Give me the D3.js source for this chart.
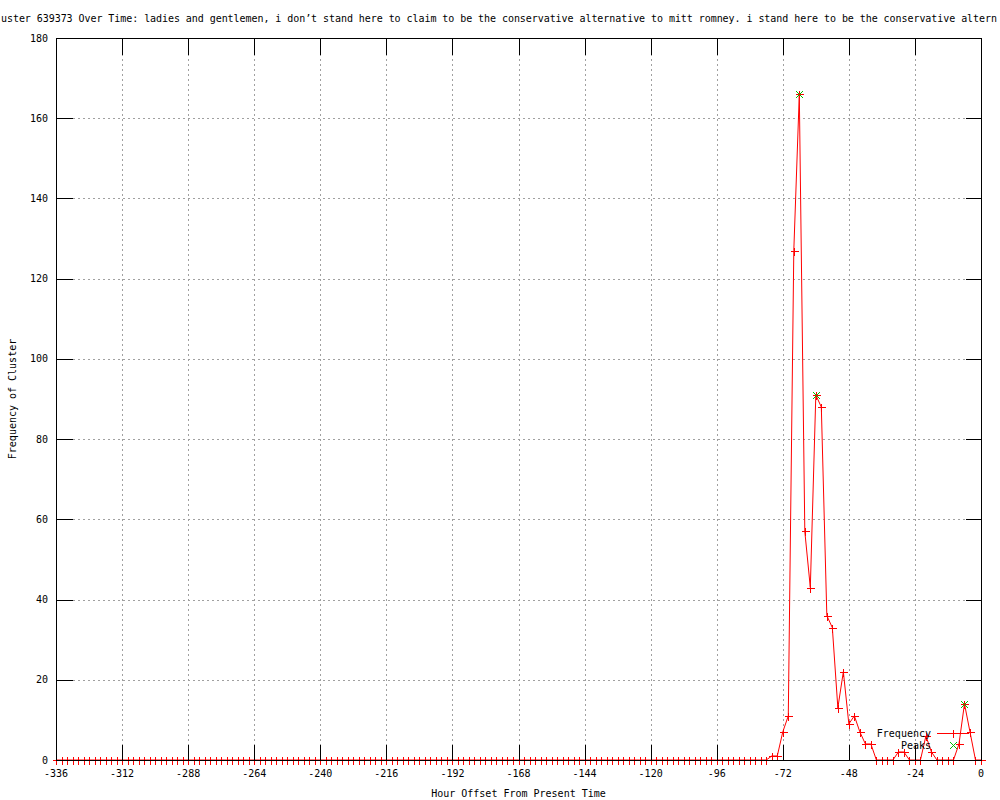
<!DOCTYPE html>
<html>
<head>
<meta charset="utf-8">
<script src="https://cdn.jsdelivr.net/npm/d3@7"></script>
<style>
  html, body { margin: 0; padding: 0; background: #fff; }
  svg { display: block; }
  text { font-family: "DejaVu Sans Mono", "Liberation Mono", monospace; font-size: 10px; fill: #000; }
</style>
</head>
<body>
<svg id="chart" width="1000" height="800"></svg>
<script>
// ---- data ----
const titleText = "uster 639373 Over Time: ladies and gentlemen, i don\u2019t stand here to claim to be the conservative alternative to mitt romney. i stand here to be the conservative altern";
const xLabel = "Hour Offset From Present Time";
const yLabel = "Frequency of Cluster";
const xTicks = [-336, -312, -288, -264, -240, -216, -192, -168, -144, -120, -96, -72, -48, -24, 0];
const yTicks = [0, 20, 40, 60, 80, 100, 120, 140, 160, 180];
// hour offsets, every 2 hours from -336 to 0
const hours = d3.range(-336, 1, 2);
// frequency per 2-hour bin (-336 ... 0)
const frequency = [
  0,0,0,0,0,0,0,0,0,0, 0,0,0,0,0,0,0,0,0,0,
  0,0,0,0,0,0,0,0,0,0, 0,0,0,0,0,0,0,0,0,0,
  0,0,0,0,0,0,0,0,0,0, 0,0,0,0,0,0,0,0,0,0,
  0,0,0,0,0,0,0,0,0,0, 0,0,0,0,0,0,0,0,0,0,
  0,0,0,0,0,0,0,0,0,0, 0,0,0,0,0,0,0,0,0,0,
  0,0,0,0,0,0,0,0,0,0, 0,0,0,0,0,0,0,0,0,0,
  0,0,0,0,0,0,0,0,0,0,            // -336 .. -78
  1, 1, 7, 11, 127, 166, 57, 43, 91, 88,   // -76 .. -58
  36, 33, 13, 22, 9, 11, 7, 4, 4, 0,      // -56 .. -38
  0, 0, 0, 2, 2, 0, 0, 0, 6, 2,           // -36 .. -18
  0, 0, 0, 0, 4, 14, 7, 0, 0              // -16 .. 0
];
const peakHours = [-66, -60, -6];
const peakValues = [166, 91, 14];

// ---- layout ----
const svg = d3.select("#chart");
const L = 56, R = 981, T = 38, B = 760;
const x = d3.scaleLinear().domain([-336, 0]).range([L, R]);
const y = d3.scaleLinear().domain([0, 180]).range([B, T]);
const px = v => Math.round(x(v)) + 0.5;
const py = v => Math.round(y(v)) + 0.5;
const red = "#ff0000", green = "#00c000";
const tickLen = 16;

// grid
const grid = svg.append("g").attr("stroke", "#a0a0a0").attr("stroke-width", 1)
  .attr("stroke-dasharray", "2,3").attr("shape-rendering", "crispEdges");
xTicks.filter(v => v > -336 && v < 0).forEach(v => {
  grid.append("line").attr("x1", px(v)).attr("x2", px(v)).attr("y1", py(180)).attr("y2", py(0) - tickLen);
});
yTicks.filter(v => v > 0 && v < 180).forEach(v => {
  grid.append("line").attr("x1", px(-336) + tickLen).attr("x2", px(0) - tickLen).attr("y1", py(v)).attr("y2", py(v));
});

// data line
const pts = hours.map((h, i) => [h, frequency[i]]);
const line = d3.line().x(d => x(d[0])).y(d => y(d[1]));
svg.append("path").datum(pts).attr("d", line).attr("fill", "none")
  .attr("stroke", red).attr("stroke-width", 1);

// markers
function plus(g, cx, cy, s, color) {
  g.append("line").attr("x1", cx - s).attr("x2", cx + s).attr("y1", cy).attr("y2", cy).attr("stroke", color);
  g.append("line").attr("x1", cx).attr("x2", cx).attr("y1", cy - s).attr("y2", cy + s).attr("stroke", color);
}
function cross(g, cx, cy, s, color) {
  g.append("line").attr("x1", cx - s).attr("x2", cx + s).attr("y1", cy - s).attr("y2", cy + s).attr("stroke", color);
  g.append("line").attr("x1", cx - s).attr("x2", cx + s).attr("y1", cy + s).attr("y2", cy - s).attr("stroke", color);
}
const mk = svg.append("g").attr("stroke-width", 1).attr("shape-rendering", "crispEdges");
pts.forEach(d => plus(mk, px(d[0]), py(d[1]), 4, red));
const pk = svg.append("g").attr("stroke-width", 1);
peakHours.forEach((h, i) => cross(pk, px(h), py(peakValues[i]), 3.5, green));

// border & ticks
const ax = svg.append("g").attr("stroke", "#000").attr("stroke-width", 1).attr("shape-rendering", "crispEdges");
ax.append("rect").attr("x", px(-336)).attr("y", py(180)).attr("width", px(0) - px(-336)).attr("height", py(0) - py(180)).attr("fill", "none");
xTicks.forEach(v => {
  ax.append("line").attr("x1", px(v)).attr("x2", px(v)).attr("y1", py(0)).attr("y2", py(0) - tickLen);
  ax.append("line").attr("x1", px(v)).attr("x2", px(v)).attr("y1", py(180)).attr("y2", py(180) + tickLen);
});
yTicks.forEach(v => {
  ax.append("line").attr("x1", px(-336)).attr("x2", px(-336) + tickLen).attr("y1", py(v)).attr("y2", py(v));
  ax.append("line").attr("x1", px(0)).attr("x2", px(0) - tickLen).attr("y1", py(v)).attr("y2", py(v));
});

// tick labels
xTicks.forEach(v => {
  svg.append("text").attr("x", x(v)).attr("y", 777).attr("text-anchor", "middle").text(String(v));
});
yTicks.forEach(v => {
  svg.append("text").attr("x", 48).attr("y", y(v) + 3.5).attr("text-anchor", "end").text(String(v));
});

// axis labels & title
svg.append("text").attr("x", (L + R) / 2).attr("y", 797).attr("text-anchor", "middle").text(xLabel);
svg.append("text").attr("transform", `translate(16,${(T + B) / 2}) rotate(-90)`).attr("text-anchor", "middle").text(yLabel);
svg.append("text").attr("x", 1).attr("y", 22)
  .attr("textLength", 996).attr("lengthAdjust", "spacing").text(titleText);

// legend
svg.append("text").attr("x", 931).attr("y", 737).attr("text-anchor", "end").text("Frequency");
svg.append("line").attr("x1", 937).attr("x2", 969).attr("y1", 733.5).attr("y2", 733.5).attr("stroke", red);
plus(svg.append("g").attr("shape-rendering", "crispEdges"), 953.5, 733.5, 4, red);
svg.append("text").attr("x", 931).attr("y", 749).attr("text-anchor", "end").text("Peaks");
cross(svg.append("g"), 953.5, 745.5, 3.5, green);
</script>
</body>
</html>
